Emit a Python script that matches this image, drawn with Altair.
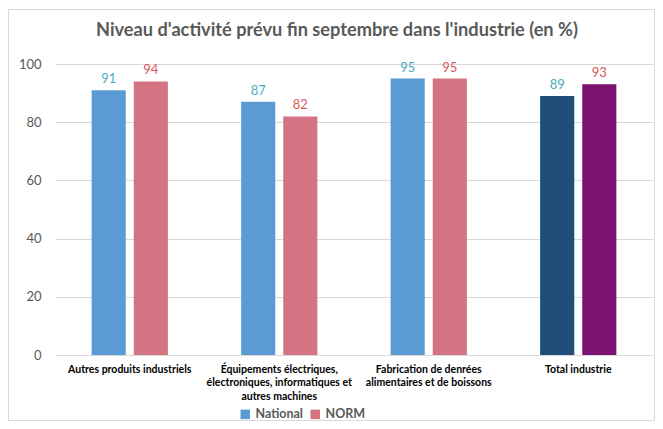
import altair as alt
import pandas as pd

categories = [
    "Autres produits industriels",
    "Équipements électriques, électroniques, informatiques et autres machines",
    "Fabrication de denrées alimentaires et de boissons",
    "Total industrie",
]
national = [91, 87, 95, 89]
norm = [94, 82, 95, 93]
series = ["National", "NORM"]

label_lines = {
    categories[0]: ["Autres produits industriels"],
    categories[1]: ["Équipements électriques,", "électroniques, informatiques et", "autres machines"],
    categories[2]: ["Fabrication de denrées", "alimentaires et de boissons"],
    categories[3]: ["Total industrie"],
}

FONT = "Lato"

rows = []
for i, c in enumerate(categories):
    total = c == "Total industrie"
    rows.append({"cat": c, "series": "National", "value": national[i],
                 "key": "National total" if total else "National", "tcol": "#4BACC6"})
    rows.append({"cat": c, "series": "NORM", "value": norm[i],
                 "key": "NORM total" if total else "NORM", "tcol": "#D65C5C"})
df = pd.DataFrame(rows)

def expr_for(lines_map):
    parts = []
    for k, v in lines_map.items():
        arr = "[" + ",".join("'" + s.replace("'", "\\'") + "'" for s in v) + "]"
        parts.append("datum.label == '" + k.replace("'", "\\'") + "' ? " + arr + " : ")
    return "".join(parts) + "datum.label"

x = alt.X("cat:N", sort=categories, title=None,
          scale=alt.Scale(paddingInner=0.49, paddingOuter=0.245),
          axis=alt.Axis(labelAngle=0, labelExpr=expr_for(label_lines), labelFont=FONT,
                        labelFontWeight="bold", labelFontSize=10.5, labelColor="#000000",
                        labelLineHeight=13.5, labelPadding=9, ticks=False, domain=False,
                        labelLimit=200, grid=False))
xo = alt.XOffset("series:N", sort=series, scale=alt.Scale(paddingInner=0.19))
y = alt.Y("value:Q", title=None, scale=alt.Scale(domain=[0, 100]),
          axis=alt.Axis(values=[0, 20, 40, 60, 80, 100], gridColor="#D9D9D9", domain=False,
                        ticks=False, labelColor="#595959", labelFontSize=13, labelPadding=14,
                        labelFont=FONT))

bars = alt.Chart(df).mark_bar().encode(
    x=x, xOffset=xo, y=y,
    color=alt.Color("key:N",
                    scale=alt.Scale(domain=["National", "NORM", "National total", "NORM total"],
                                    range=["#5B9BD5", "#D47381", "#1F4E79", "#7B1270"]),
                    legend=alt.Legend(values=["National", "NORM"], title=None, orient="none",
                                      direction="horizontal", legendX=184, legendY=344,
                                      symbolType="square", symbolSize=90, symbolStrokeWidth=0,
                                      labelFontSize=12.5, labelFontWeight="bold", labelColor="#595959",
                                      labelFont=FONT, columnPadding=6, labelOffset=4)),
)

texts = alt.Chart(df).mark_text(dy=-11, fontSize=13, font=FONT).encode(
    x=x, xOffset=xo, y=y, text="value:Q", color=alt.Color("tcol:N", scale=None),
)

frame = alt.Chart(alt.Data(values=[{}])).mark_rect(fill=None, stroke="#D9D9D9", strokeWidth=1).encode(
    x=alt.value(-46.5), x2=alt.value(599.5), y=alt.value(-54.5), y2=alt.value(356.5)
)

chart = alt.layer(frame, bars, texts).properties(
    width=598, height=291,
    autosize=alt.AutoSizeParams(type="none"),
    padding={"left": 47, "top": 56, "right": 2, "bottom": 66},
    title=alt.TitleParams("Niveau d'activité prévu fin septembre dans l'industrie (en %)",
                          fontSize=18.2, fontWeight="bold", color="#595959", dx=-17, offset=0, dy=31,
                          font=FONT),
).configure_view(stroke=None)

chart.save("out.html", embed_options={"renderer": "svg", "actions": False})
